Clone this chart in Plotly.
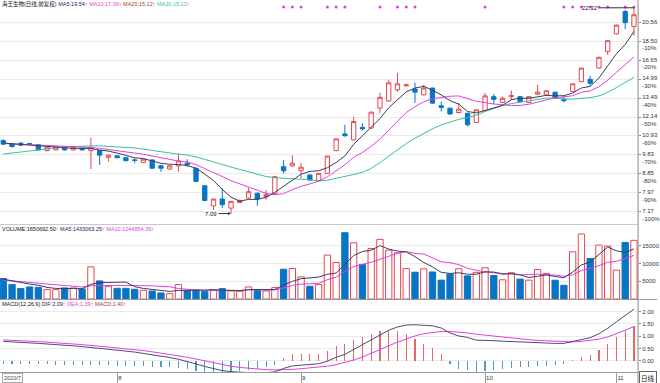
import numpy as np
import pandas as pd
import plotly.graph_objects as go

# ---------------- data ----------------
opens = [10.65,10.46,10.50,10.48,10.40,10.07,10.11,10.21,10.11,10.19,
         10.07,10.07,9.70,9.78,9.68,9.56,9.42,9.56,9.25,9.09,
         9.25,9.39,9.13,8.28,7.40,7.69,7.31,7.54,7.73,7.94,
         7.80,7.94,9.21,9.25,9.00,8.79,8.52,8.87,10.07,11.05,
         10.69,11.46,11.42,12.76,13.28,14.13,14.45,14.19,13.74,14.27,
         12.93,12.76,12.45,12.40,11.78,12.59,13.60,13.17,13.60,13.60,
         13.17,13.79,13.74,13.95,13.40,14.00,14.79,14.98,15.95,17.49,
         19.31,21.86,20.10]
highs = [10.72,10.50,10.56,10.50,10.42,10.28,10.30,10.27,10.27,10.21,
         10.81,10.09,9.86,9.80,9.70,9.65,9.63,9.58,9.30,9.27,
         9.92,9.60,9.14,8.29,7.70,8.17,7.60,7.67,8.18,7.97,
         8.09,8.74,9.56,9.82,9.39,8.80,8.89,9.78,10.77,11.63,
         12.16,11.74,12.50,13.89,14.93,15.53,14.61,14.71,14.53,14.29,
         13.23,12.78,13.14,12.43,12.66,13.89,13.81,13.60,14.08,13.63,
         13.63,14.53,14.08,13.97,13.66,14.63,15.97,15.27,16.97,18.62,
         20.32,22.07,22.32]
lows = [10.40,10.24,10.32,10.42,10.09,10.03,10.10,10.07,10.09,10.09,
        9.09,9.30,9.47,9.65,9.49,9.39,9.39,9.09,8.95,9.05,
        8.95,9.21,8.45,7.60,7.23,7.32,7.09,7.52,7.70,7.40,
        7.66,7.91,8.87,9.21,8.64,8.52,8.50,8.84,10.03,10.88,
        10.65,11.26,11.37,12.43,13.21,13.97,14.37,13.14,13.68,13.07,
        12.52,12.30,12.40,11.52,11.74,12.55,13.05,13.12,13.35,13.19,
        13.12,13.74,13.68,13.43,13.17,13.95,14.74,14.45,15.89,17.17,
        19.23,19.82,19.09]
closes = [10.44,10.30,10.38,10.44,10.11,10.27,10.27,10.11,10.24,10.11,
          10.23,9.82,9.82,9.68,9.52,9.54,9.60,9.13,9.13,9.25,
          9.51,9.30,8.48,7.63,7.69,7.45,7.59,7.63,8.01,7.69,
          7.87,8.71,9.00,9.39,9.18,8.56,8.87,9.77,10.75,10.94,
          11.84,11.37,12.48,13.55,14.69,14.61,14.53,13.95,14.27,13.12,
          12.81,12.35,12.69,11.63,12.64,13.66,13.40,13.48,13.68,13.23,
          13.60,13.95,14.05,13.48,13.30,14.61,15.95,14.66,16.94,18.58,
          20.27,20.54,21.47]

# volume in units of 100 shares (as on the axis)
volumes = [5750,4050,2920,3390,3300,2640,2640,3110,3110,2830,
           9040,5090,3580,3010,3010,2730,2450,2260,1700,1510,
           4050,2260,2540,2070,2360,2920,2260,2170,3390,2360,
           2260,3200,8380,8570,6220,3580,4050,12340,10270,18650,
           15830,9700,14220,16770,13750,13000,8570,7540,8500,7600,
           5300,7000,8500,6500,7500,8800,6600,5400,7400,5600,
           5300,8300,7200,5280,3860,13280,18280,11400,15170,14880,
           8100,15920,16507]

# moving-average values before enough history is visible
ma5_lead = [10.50,10.46,10.42,10.39]
ma10_lead = [10.48,10.46,10.43,10.40,10.38,10.35,10.33,10.31,10.29]
ma20_lead = [9.88,9.93,9.99,10.05,10.11,10.16,10.22,10.28,10.31,10.32,
             10.34,10.34,10.32,10.30,10.27,10.22,10.15,10.07,9.99]
vma5_lead = [5600,5100,4600,4200]
vma10_lead = [5300,5100,4900,4700,4500,4300,4100,3900,3650]

dea = [0.85,0.84,0.82,0.80,0.78,0.76,0.74,0.72,0.69,0.66,
       0.63,0.60,0.57,0.54,0.50,0.46,0.42,0.37,0.32,0.27,
       0.21,0.15,0.08,0.00,-0.08,-0.15,-0.21,-0.26,-0.30,-0.33,
       -0.35,-0.36,-0.36,-0.34,-0.31,-0.28,-0.25,-0.21,-0.15,-0.07,
       0.04,0.16,0.30,0.45,0.61,0.76,0.90,1.01,1.10,1.16,
       1.19,1.19,1.17,1.13,1.08,1.04,1.00,0.96,0.92,0.89,
       0.86,0.83,0.81,0.79,0.77,0.77,0.79,0.82,0.88,0.97,
       1.09,1.24,1.39]
dif = [0.79,0.78,0.76,0.73,0.71,0.69,0.66,0.64,0.61,0.58,
       0.55,0.51,0.48,0.44,0.40,0.36,0.31,0.25,0.20,0.14,
       0.07,-0.01,-0.12,-0.22,-0.32,-0.39,-0.43,-0.46,-0.48,-0.49,
       -0.47,-0.44,-0.30,-0.20,-0.17,-0.15,-0.11,-0.01,0.15,0.27,
       0.47,0.65,0.85,1.06,1.24,1.37,1.45,1.46,1.45,1.42,
       1.33,1.13,1.01,0.95,0.84,0.84,0.82,0.80,0.78,0.77,
       0.74,0.73,0.71,0.71,0.71,0.79,0.87,0.94,1.10,1.32,
       1.58,1.85,2.09]
macd_hist = [-0.12,-0.12,-0.12,-0.14,-0.14,-0.14,-0.16,-0.16,-0.16,-0.16,
             -0.16,-0.18,-0.18,-0.20,-0.20,-0.20,-0.22,-0.24,-0.24,-0.26,
             -0.28,-0.32,-0.40,-0.44,-0.48,-0.48,-0.44,-0.40,-0.36,-0.32,
             -0.24,-0.16,0.13,0.28,0.28,0.27,0.28,0.40,0.59,0.67,
             0.85,0.97,1.09,1.21,1.25,1.21,1.09,0.89,0.69,0.52,
             0.28,-0.12,-0.32,-0.36,-0.48,-0.40,-0.36,-0.32,-0.28,-0.24,
             -0.24,-0.20,-0.20,-0.16,-0.12,0.04,0.16,0.24,0.44,0.69,
             0.97,1.21,1.40]

event_idx = [32,33,34,37,38,39,43,45,46,47,55,64,65,66,67,68,69,71,72]

price_ticks = [20.56,18.50,16.65,14.99,13.49,12.14,10.93,9.83,8.85,7.97,7.17]
price_pct = ["","-10%","-20%","-30%","-40%","-50%","-60%","-70%","-80%","-90%","-100%"]
vol_ticks = [5000,10000,15000]
macd_ticks = [0.0,0.5,1.0,1.5,2.0]
month_idx = [13,34,55,70]
month_labels = ["8","9","10","11"]
first_label = "2020/7"

title_main = ("海王生物(日线,前复权)", "MA5:19.54", "MA10:17.09", "MA20:15.12", "MA20:15.12")
title_vol = ("VOLUME:1650692.50", "MA5:1433063.25", "MA10:1244854.39")
title_macd = ("MACD(12,26,9)", "DIF:2.09", "DEA:1.39", "MACD:1.40")

# ---------------- styling ----------------
RED = "#e34850"
BLUE = "#0a74c4"
C_MA5 = "#3c3c5c"
C_MA10 = "#e040e0"
C_MA20 = "#3cbf9c"
C_MAR = "#a03c3c"
FONT = "Liberation Sans, Noto Sans CJK SC, sans-serif"

n = len(closes)
idx = np.arange(n)

def rolling_with_lead(vals, w, lead):
    s = pd.Series(vals, dtype=float).rolling(w).mean().to_numpy()
    s[:w - 1] = lead
    return s

ma5 = rolling_with_lead(closes, 5, ma5_lead)
ma10 = rolling_with_lead(closes, 10, ma10_lead)
ma20 = rolling_with_lead(closes, 20, ma20_lead)
vma5 = rolling_with_lead(volumes, 5, vma5_lead)
vma10 = rolling_with_lead(volumes, 10, vma10_lead)

up = [c >= o for o, c in zip(opens, closes)]

fig = go.Figure()

fig.add_trace(go.Candlestick(
    x=idx, open=opens, high=highs, low=lows, close=closes,
    increasing=dict(line=dict(color=RED, width=1), fillcolor="white"),
    decreasing=dict(line=dict(color=BLUE, width=1), fillcolor=BLUE),
    whiskerwidth=0, xaxis="x", yaxis="y", hoverinfo="skip"))
for arr, col in [(ma20, C_MA20), (ma10, C_MA10), (ma5, C_MA5)]:
    fig.add_trace(go.Scatter(x=idx, y=arr, mode="lines", line=dict(color=col, width=1),
                             xaxis="x", yaxis="y", hoverinfo="skip"))

fig.add_trace(go.Scatter(x=event_idx, y=[0.969] * len(event_idx), mode="markers",
                         marker=dict(color="#e040e0", size=3, symbol="circle"),
                         xaxis="x", yaxis="y4", hoverinfo="skip"))

fig.add_trace(go.Bar(
    x=idx, y=volumes, width=0.72,
    marker=dict(color=["white" if u else BLUE for u in up],
                line=dict(color=[RED if u else BLUE for u in up], width=1)),
    xaxis="x2", yaxis="y2", hoverinfo="skip"))
fig.add_trace(go.Scatter(x=idx, y=vma10, mode="lines", line=dict(color=C_MA10, width=1),
                         xaxis="x2", yaxis="y2", hoverinfo="skip"))
fig.add_trace(go.Scatter(x=idx, y=vma5, mode="lines", line=dict(color=C_MA5, width=1),
                         xaxis="x2", yaxis="y2", hoverinfo="skip"))

fig.add_trace(go.Bar(
    x=idx, y=macd_hist, width=0.13,
    marker=dict(color=["#e06a6a" if v >= 0 else "#4a9cc8" for v in macd_hist], line=dict(width=0)),
    xaxis="x3", yaxis="y3", hoverinfo="skip"))
fig.add_trace(go.Scatter(x=idx, y=dea, mode="lines", line=dict(color=C_MA10, width=1),
                         xaxis="x3", yaxis="y3", hoverinfo="skip"))
fig.add_trace(go.Scatter(x=idx, y=dif, mode="lines", line=dict(color="#4c4c70", width=1),
                         xaxis="x3", yaxis="y3", hoverinfo="skip"))

H = 383.0
W = 660.0
XR = [-0.375, 72.47]
xdom = [0, 641 / W]
main_dom = [1 - 224 / H, 1.0]
vol_dom = [1 - 299 / H, 1 - 225 / H]
macd_dom = [1 - 372 / H, 1 - 300 / H]

tickfont = dict(family=FONT, size=6, color="#333")
grid = "#ebebeb"

fig.update_layout(
    width=660, height=383, margin=dict(l=0, r=0, t=0, b=0),
    paper_bgcolor="white", plot_bgcolor="white", showlegend=False,
    bargap=0, font=dict(family=FONT, size=6),
    xaxis=dict(domain=xdom, range=XR, anchor="y", showticklabels=False, showgrid=False,
               zeroline=False, rangeslider=dict(visible=False)),
    xaxis2=dict(domain=xdom, range=XR, anchor="y2", matches="x", showticklabels=False,
                showgrid=False, zeroline=False),
    xaxis3=dict(domain=xdom, range=XR, anchor="y3", matches="x", showgrid=False, zeroline=False,
                tickvals=month_idx, ticktext=month_labels, ticks="outside", ticklen=10,
                tickcolor="#999", ticklabelposition="outside right", tickfont=tickfont,
                showline=True, linecolor="#999"),
    yaxis=dict(domain=main_dom, type="log",
               range=[np.log10(6.69), np.log10(23.31)], side="right", anchor="x",
               tickvals=price_ticks,
               ticktext=[f"{p:.2f}<br>{t}" if t else f"{p:.2f}<br> " for p, t in zip(price_ticks, price_pct)],
               ticklabelshift=3,
               tickfont=tickfont, showgrid=True, gridcolor=grid, zeroline=False,
               ticks="outside", ticklen=2, tickcolor="#888"),
    yaxis4=dict(domain=main_dom, range=[0, 1], overlaying="y", visible=False, anchor="x"),
    yaxis2=dict(domain=vol_dom, range=[0, 20819], side="right", anchor="x2",
                tickvals=vol_ticks, ticktext=[str(v) for v in vol_ticks],
                tickfont=tickfont, showgrid=True, gridcolor=grid,
                zeroline=False, ticks="outside", ticklen=2, tickcolor="#888"),
    yaxis3=dict(domain=macd_dom, range=[-0.444, 2.46], side="right", anchor="x3",
                tickvals=macd_ticks, ticktext=[f"{v:.2f}" for v in macd_ticks],
                tickfont=tickfont, showgrid=True, gridcolor=grid, zeroline=False,
                ticks="outside", ticklen=2, tickcolor="#888"),
)

shapes = [
    dict(type="line", xref="paper", yref="paper", x0=641 / W, x1=641 / W, y0=0, y1=1,
         line=dict(color="#888", width=1)),
    dict(type="line", xref="paper", yref="paper", x0=0, x1=641 / W, y0=1 - 224.5 / H, y1=1 - 224.5 / H,
         line=dict(color="#c8c8c8", width=1)),
    dict(type="line", xref="paper", yref="paper", x0=0, x1=1, y0=1 - 299.5 / H, y1=1 - 299.5 / H,
         line=dict(color="#999", width=1)),
]
fig.update_layout(shapes=shapes)

def header(parts, colors, ypx, first_arrow):
    segs = []
    for i, (p, c) in enumerate(zip(parts, colors)):
        segs.append(f"<span style='color:{c}'>{p}</span>")
        if i > 0 or first_arrow:
            segs.append("<span style='color:#e00000'>↑</span>")
        segs.append(" ")
    return dict(xref="paper", yref="paper", x=0.0, y=1 - ypx / H, xanchor="left", yanchor="middle",
                text="".join(segs), showarrow=False, font=dict(family=FONT, size=5.5))

hi_i = int(np.argmax(highs))
lo_i = int(np.argmin(lows))
annotations = [
    header(title_main, ["#111", "#222266", C_MA10, C_MAR, C_MA20], 4, False),
    header(title_vol, ["#111", "#222266", C_MA10], 229, True),
    header(title_macd, ["#111", "#222266", C_MA10, C_MAR], 304, False),
    dict(x=hi_i, y=np.log10(highs[hi_i]), xref="x", yref="y", text=f"{highs[hi_i]:.2f}",
         showarrow=True, arrowhead=0, arrowwidth=1, arrowcolor="#333", ax=-44, ay=0,
         font=dict(family=FONT, size=6, color="#111")),
    dict(x=lo_i, y=np.log10(lows[lo_i]), xref="x", yref="y", text=f"{lows[lo_i]:.2f}",
         showarrow=True, arrowhead=2, arrowsize=0.6, arrowwidth=1, arrowcolor="#333", ax=-20, ay=0,
         font=dict(family=FONT, size=6, color="#111")),
    dict(xref="paper", yref="paper", x=2 / W, y=5.5 / H, xanchor="left", yanchor="middle",
         text=first_label, showarrow=False, bordercolor="#aaa", borderwidth=1, borderpad=1,
         font=dict(family=FONT, size=5.5, color="#444"), bgcolor="white"),
    dict(xref="paper", yref="paper", x=650.5 / W, y=5.5 / H, xanchor="center", yanchor="middle",
         text="日线", showarrow=False, bordercolor="#666", borderwidth=1, borderpad=1,
         font=dict(family="Noto Sans CJK SC", size=6.5, color="#111"), bgcolor="white"),
]
fig.update_layout(annotations=annotations)

fig.write_html("out.html", config={"displayModeBar": False, "staticPlot": True})
# remove the browser's default page margin so the figure sits at the window origin
with open("out.html", "r", encoding="utf-8") as f:
    html = f.read()
html = html.replace("<head>", "<head><style>html,body{margin:0;padding:0;overflow:hidden;}</style>", 1)
with open("out.html", "w", encoding="utf-8") as f:
    f.write(html)
